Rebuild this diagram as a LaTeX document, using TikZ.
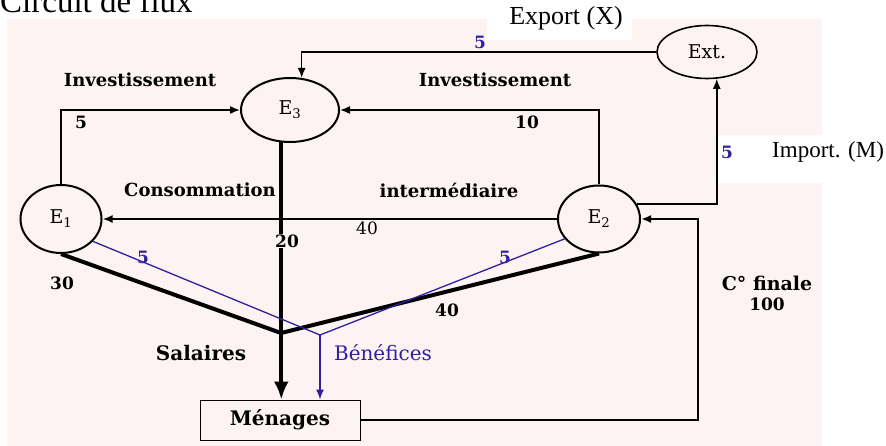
\documentclass[tikz,border=0pt]{standalone}
\usepackage{fontspec}
\setmainfont{DejaVu Serif}
\newfontfamily\timesfont{Liberation Serif}
\usetikzlibrary{shapes.geometric,arrows.meta}
\definecolor{fondrose}{RGB}{253,243,242}
\definecolor{bleuflux}{RGB}{48,32,160}
\newcommand{\BF}[1]{\textcolor{bleuflux}{#1}}
\newcommand{\fsz}[1]{\fontsize{#1}{#1}\selectfont}

\begin{document}
\begin{tikzpicture}[x=1pt, y=-1pt, >={Latex[length=10pt,width=8pt]},
  agent/.style={ellipse, draw, line width=2pt, inner sep=0pt, font=\fsz{19}},
  lab/.style={font=\bfseries\fsz{17}, inner sep=1pt},
  mot/.style={font=\bfseries\fsz{18}, inner sep=1pt},
  flux/.style={line width=1.6pt}]

  \useasboundingbox (0,0) rectangle (886,446);
  \fill[fondrose] (7,19) rectangle (822,446);
  \fill[white] (487,0) rectangle (632,40);
  \fill[white] (718,135) rectangle (886,183);

  \node[anchor=base west, inner sep=0pt, font=\timesfont\fsz{33}] (titre) at (0,13) {Circuit de flux};
  \node[anchor=base, inner sep=0pt, font=\timesfont\fsz{26}] (export) at (566,25) {Export (X)};
  \node[anchor=base west, inner sep=0pt, font=\timesfont\fsz{23}] (import) at (772,158) {Import. (M)};

  %% agents
  \node[agent, minimum width=81, minimum height=68] (E1) at (61,219) {E\textsubscript{1}};
  \node[agent, minimum width=82, minimum height=67] (E2) at (599,219) {E\textsubscript{2}};
  \node[agent, minimum width=98, minimum height=64] (E3) at (290,110) {E\textsubscript{3}};
  \node[agent, line width=1.6pt, minimum width=100, minimum height=53] (ext) at (707,52) {Ext.};
  \node[draw, line width=1pt, minimum width=160, minimum height=40, font=\bfseries\fsz{20}] (men) at (280,420) {Ménages};

  \coordinate (sal) at (281,333);
  \coordinate (ben) at (320,335);
  \coordinate (cf) at (698,300);

  %% investissement
  \draw[->, flux] (E1.north) |- (E3.west);
  \draw[->, flux] (E2.north) |- (E3.east);
  \draw[->, flux] (ext.west) -| (E3.70);
  \draw[->, flux] (E2.22) -| (ext.290);

  %% consommation intermediaire
  \draw[->, line width=2pt] (E2.west) -- (E1.east);
  \draw[-{Latex[length=18pt,width=15pt]}, line width=4pt] (E3.255) -- (E3.255 |- men.north);
  \draw[line width=4pt, line join=round] (E1.south) -- (sal) -- (E2.south);

  %% benefices
  \draw[bleuflux, line width=1.3pt] (E1.-35) -- (ben) -- (E2.210);
  \draw[->, bleuflux, line width=1.3pt] (ben) -- (ben |- men.north);

  %% C finale
  \draw[->, line width=2pt] (men.east) -| (cf) |- (E2.east);

  %% labels
  \node[mot] (invG) at (140,80) {Investissement};
  \node[mot] (invD) at (495,80) {Investissement};
  \node[lab] (n5a) at (81,122) {5};
  \node[lab] (n10) at (527,122) {10};
  \node[lab] (n5x) at (480,42) {\BF{5}};
  \node[lab] (n5m) at (727,152) {\BF{5}};
  \node[mot] (conso) at (200,190) {Consommation};
  \node[mot] (inter) at (449,190) {intermédiaire};
  \node[font=\fsz{17}] (n40a) at (367,228) {40};
  \node[lab, fill=fondrose] (n20) at (287,241) {20};
  \node[lab] (n5g) at (143,257) {\BF{5}};
  \node[lab] (n5d) at (505,257) {\BF{5}};
  \node[lab] (n30) at (62,283) {30};
  \node[lab] (n40b) at (447,310) {40};
  \node[mot, font=\bfseries\fsz{20}] (salaires) at (201,353) {Salaires};
  \node[font=\fsz{20}] (benef) at (383,353) {\BF{Bénéfices}};
  \node[mot, font=\bfseries\fsz{19}] (cfin) at (767,283) {C° finale};
  \node[lab] (n100) at (767,304) {100};

\end{tikzpicture}
\end{document}
